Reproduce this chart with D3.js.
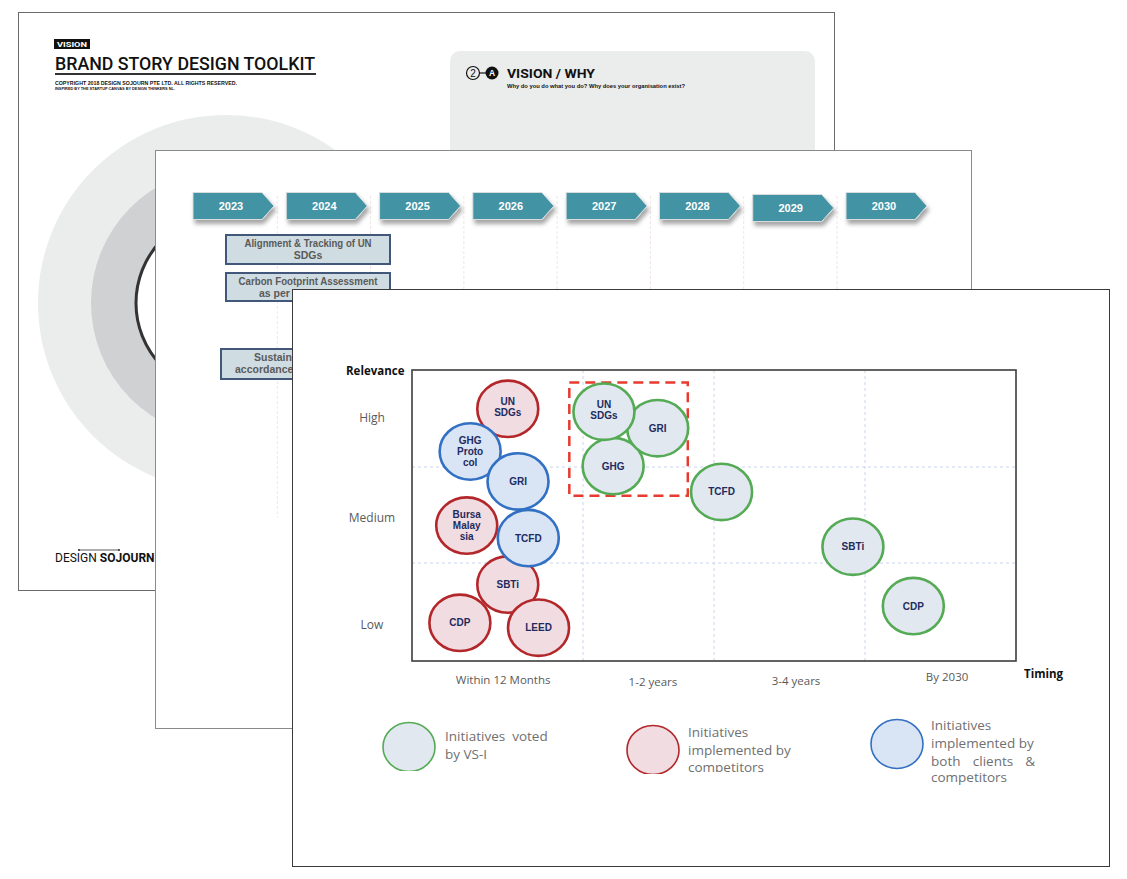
<!DOCTYPE html>
<html><head><meta charset="utf-8">
<script src="https://cdn.jsdelivr.net/npm/d3@7"></script>
<style>body{margin:0;background:#fff}svg{display:block}</style>
</head><body><svg id="c" width="1127" height="879"></svg>
<script>
// ---------------- DATA ----------------
const roadmapYears = ["2023","2024","2025","2026","2027","2028","2029","2030"];
const roadmapItems = [
  ["Alignment &  Tracking of UN","SDGs"],
  ["Carbon Footprint Assessment","as per GHG Protocol"],
  ["Sustainability","accordance with GRI"]
];
const timingCategories = ["Within 12 Months","1-2 years","3-4 years","By 2030"];
const timingTickValues = [0.53, 1.53, 2.54, 3.54];
const relevanceCategories = ["Low","Medium","High"];
const relevanceTickValues = [0.39, 1.49, 2.52];

// Initiatives voted by VS-I (green)
const votedLabels    = ["GHG","GRI","UN\nSDGs","TCFD","SBTi","CDP"];
const votedTiming    = [1.23, 1.57, 1.16, 2.05, 2.92, 3.32];
const votedRelevance = [2.01, 2.40, 2.57, 1.74, 1.17, 0.56];

// Initiatives implemented by competitors (red)
const competitorLabels    = ["UN\nSDGs","Bursa\nMalay\nsia","SBTi","CDP","LEED"];
const competitorTiming    = [0.56, 0.32, 0.56, 0.28, 0.74];
const competitorRelevance = [2.60, 1.39, 0.78, 0.39, 0.34];

// Initiatives implemented by both clients & competitors (blue)
const bothLabels    = ["GHG\nProto\ncol","GRI","TCFD"];
const bothTiming    = [0.34, 0.62, 0.68];
const bothRelevance = [2.16, 1.85, 1.26];

const highlightTiming = [0.92, 1.80];
const highlightRelevance = [1.70, 2.87];

const legendLabels = [
  ["Initiatives  voted","by VS-I"],
  ["Initiatives","implemented by","competitors"],
  ["Initiatives","implemented by","both   clients   &","competitors"]
];

// ---------------- DRAW ----------------
const svg = d3.select("#c");
const defs = svg.append("defs");
const f = defs.append("filter").attr("id","sh").attr("x","-20%").attr("y","-30%").attr("width","150%").attr("height","190%");
f.append("feDropShadow").attr("dx",2).attr("dy",4).attr("stdDeviation",2).attr("flood-color","#000").attr("flood-opacity",0.35);
defs.append("clipPath").attr("id","clipS1").append("rect").attr("x",18).attr("y",12).attr("width",137).attr("height",580);
defs.append("clipPath").attr("id","clipS2").append("rect").attr("x",150).attr("y",140).attr("width",142).attr("height",600);

// ===== Slide 1 (back) =====
const s1 = svg.append("g");
s1.append("rect").attr("x",18.5).attr("y",12.5).attr("width",816).attr("height",578).attr("fill","#fff").attr("stroke","#6a6a6a");
s1.append("circle").attr("cx",226).attr("cy",303).attr("r",188).attr("fill","#ebecec");
s1.append("circle").attr("cx",226).attr("cy",303).attr("r",135).attr("fill","#d0d1d3");
s1.append("circle").attr("cx",226).attr("cy",303).attr("r",90).attr("fill","#fff").attr("stroke","#333").attr("stroke-width",3);
s1.append("rect").attr("x",54).attr("y",39).attr("width",36).attr("height",10).attr("fill","#111");
s1.append("text").attr("x",57).attr("y",47).attr("fill","#fff").attr("font-family","Roboto, Liberation Sans").attr("font-weight",700).attr("font-size",8).attr("textLength",30).attr("lengthAdjust","spacingAndGlyphs").text("VISION");
s1.append("text").attr("x",55).attr("y",70).attr("fill","#111").attr("font-family","Roboto").attr("font-weight",500).attr("font-size",18).attr("textLength",260).attr("lengthAdjust","spacingAndGlyphs").text("BRAND STORY DESIGN TOOLKIT");
s1.append("rect").attr("x",55).attr("y",73).attr("width",261).attr("height",2).attr("fill","#333");
s1.append("text").attr("x",55).attr("y",85).attr("fill","#111").attr("font-family","Liberation Sans").attr("font-weight",700).attr("font-size",5.5).attr("textLength",182).attr("lengthAdjust","spacingAndGlyphs").text("COPYRIGHT 2018 DESIGN SOJOURN PTE LTD. ALL RIGHTS RESERVED.");
s1.append("text").attr("x",55).attr("y",89.5).attr("fill","#111").attr("font-family","Liberation Sans").attr("font-weight",700).attr("font-size",3.8).attr("textLength",120).attr("lengthAdjust","spacingAndGlyphs").text("INSPIRED BY THE STARTUP CANVAS BY DESIGN THINKERS NL.");
s1.append("rect").attr("x",450).attr("y",51).attr("width",365).attr("height",200).attr("rx",10).attr("fill","#ebecec");
s1.append("circle").attr("cx",473).attr("cy",73).attr("r",6.5).attr("fill","none").attr("stroke","#111").attr("stroke-width",1.2);
s1.append("text").attr("x",473).attr("y",76.8).attr("text-anchor","middle").attr("font-family","Liberation Sans").attr("font-size",10).attr("fill","#111").text("2");
s1.append("line").attr("x1",479.5).attr("x2",486).attr("y1",73).attr("y2",73).attr("stroke","#111").attr("stroke-width",1.2);
s1.append("circle").attr("cx",492).attr("cy",73).attr("r",6.5).attr("fill","#111");
s1.append("text").attr("x",492).attr("y",76.3).attr("text-anchor","middle").attr("font-family","Liberation Sans").attr("font-weight",700).attr("font-size",8.5).attr("fill","#fff").text("A");
s1.append("text").attr("x",507).attr("y",78).attr("fill","#111").attr("font-family","Roboto").attr("font-weight",700).attr("font-size",13).attr("textLength",88).attr("lengthAdjust","spacingAndGlyphs").text("VISION / WHY");
s1.append("text").attr("x",507).attr("y",88).attr("fill","#111").attr("font-family","Liberation Sans").attr("font-weight",700).attr("font-size",5.8).attr("textLength",178).attr("lengthAdjust","spacingAndGlyphs").text("Why do you do what you do? Why does your organisation exist?");
const logo = s1.append("text").attr("x",55).attr("y",562).attr("fill","#111").attr("font-family","Roboto").attr("font-size",12).attr("clip-path","url(#clipS1)");
logo.append("tspan").text("DESIGN");
logo.append("tspan").attr("dx",3).attr("font-weight",700).text("SOJOURN");
s1.append("line").attr("x1",79).attr("x2",119).attr("y1",550).attr("y2",550).attr("stroke","#333").attr("stroke-width",0.8);
[79,119].forEach(x=>s1.append("circle").attr("cx",x).attr("cy",550).attr("r",1.1).attr("fill","#333"));

// ===== Slide 2 (middle) =====
const s2 = svg.append("g");
s2.append("rect").attr("x",155.5).attr("y",150.5).attr("width",816).attr("height",578).attr("fill","#fff").attr("stroke","#8a8a8a");
const yearX = d3.scalePoint().domain(roadmapYears).range([193, 846]);
roadmapYears.slice(1).forEach(yv=>{
  const x = yearX(yv) - 9;
  s2.append("line").attr("x1",x).attr("x2",x).attr("y1",196).attr("y2",517).attr("stroke","#f0e6e6").attr("stroke-dasharray","3 2");
});
const ah = 27;
const arrows = s2.selectAll("g.arr").data(roadmapYears).join("g").attr("class","arr")
  .attr("transform",d=>`translate(${yearX(d)},${d==="2029"?194.5:192.5})`);
arrows.append("path").attr("d",`M0,0H69L81,${ah/2}L69,${ah}H0Z`).attr("fill","#4394a5").attr("stroke","#d8dcdd").attr("stroke-width",1).attr("filter","url(#sh)");
arrows.append("text").attr("x",38).attr("y",ah/2+4).attr("text-anchor","middle").attr("fill","#fff").attr("font-family","Liberation Sans").attr("font-weight",700).attr("font-size",11).text(d=>d);
const boxes = [
  {x:226,y:235,w:164,h:29,l1:{x:308,a:"middle",w:127},l2:{x:308,a:"middle"},b1:247,b2:259},
  {x:226,y:273,w:164,h:28,l1:{x:308,a:"middle",w:139},l2:{x:259,a:"start"},b1:285,b2:297},
  {x:221,y:349,w:164,h:30,l1:{x:254,a:"start"},l2:{x:235,a:"start"},b1:361,b2:373}
];
boxes.forEach((b,i)=>{
  s2.append("rect").attr("x",b.x).attr("y",b.y).attr("width",b.w).attr("height",b.h).attr("fill","#cfdce1").attr("stroke","#42587a").attr("stroke-width",2);
  const t1 = s2.append("text").attr("x",b.l1.x).attr("y",b.b1).attr("text-anchor",b.l1.a).attr("fill","#5a5a5a").attr("font-family","Liberation Sans").attr("font-weight",700).attr("font-size",10.5).text(roadmapItems[i][0]);
  if (b.l1.w) t1.attr("textLength",b.l1.w).attr("lengthAdjust","spacingAndGlyphs");
  if (i===2) t1.attr("clip-path","url(#clipS2)");
  const t2 = s2.append("text").attr("x",b.l2.x).attr("y",b.b2).attr("text-anchor",b.l2.a).attr("fill","#5a5a5a").attr("font-family","Liberation Sans").attr("font-weight",700).attr("font-size",10.5).text(roadmapItems[i][1]);
  if (i>0) t2.attr("clip-path","url(#clipS2)");
});

// ===== Slide 3 (front) =====
const s3 = svg.append("g");
s3.append("rect").attr("x",292.5).attr("y",289.5).attr("width",817).attr("height",577).attr("fill","#fff").attr("stroke","#3a3a3a");

const x = d3.scaleLinear().domain([0,1,2,3,4]).range([412,583,714,865,1016]);
const y = d3.scaleLinear().domain([0,1,2,3]).range([661,563,467,370]);

// grid
const grid = s3.append("g").attr("stroke","#c8d6ee").attr("stroke-dasharray","3 3").attr("stroke-width",1);
[1,2,3].forEach(v=>grid.append("line").attr("x1",x(v)).attr("x2",x(v)).attr("y1",y(3)).attr("y2",y(0)));
[1,2].forEach(v=>grid.append("line").attr("x1",x(0)).attr("x2",x(4)).attr("y1",y(v)).attr("y2",y(v)));

// axes (labels only)
const yAxis = d3.axisLeft(y).tickValues(relevanceTickValues).tickFormat((d,i)=>relevanceCategories[i]).tickSize(0);
const ya = s3.append("g").attr("transform",`translate(${x(0)},0)`).call(yAxis);
ya.select(".domain").remove();
ya.selectAll("text").attr("x",-40).attr("dy","0.45em").attr("text-anchor","middle").attr("font-family","Open Sans").attr("font-size",12).attr("fill","#5a5a5a");
const xAxis = d3.axisBottom(x).tickValues(timingTickValues).tickFormat((d,i)=>timingCategories[i]).tickSize(0);
const xa = s3.append("g").attr("transform",`translate(0,${y(0)})`).call(xAxis);
xa.select(".domain").remove();
const xdy = [15,17,16,12];
xa.selectAll("text").attr("y",(d,i)=>xdy[i]).attr("font-family","Open Sans").attr("font-size",11.5).attr("fill","#5a5a5a");

s3.append("text").attr("x",346).attr("y",375).attr("font-family","Open Sans").attr("font-weight",700).attr("font-size",11.5).attr("fill","#111").text("Relevance");
s3.append("text").attr("x",1024).attr("y",678).attr("font-family","Open Sans").attr("font-weight",700).attr("font-size",11.5).attr("fill","#111").text("Timing");

// bubbles
const styles = {
  green:{stroke:"#55ab55", fill:"#e1e8ef"},
  red:{stroke:"#b3272b", fill:"#f1dde1"},
  blue:{stroke:"#3270c3", fill:"#d9e4f5"}
};
function bubbles(labels, tx, ry, st){
  const data = labels.map((l,i)=>({l, t:tx[i], r:ry[i]}));
  const g = s3.append("g").selectAll("g").data(data).join("g")
    .attr("transform",d=>`translate(${x(d.t)},${y(d.r)})`);
  g.append("ellipse").attr("rx",30.5).attr("ry",28.2).attr("fill",st.fill).attr("stroke",st.stroke).attr("stroke-width",2.6);
  g.each(function(d){
    const lines = d.l.split("\n");
    const t = d3.select(this).append("text").attr("text-anchor","middle").attr("font-family","Liberation Sans").attr("font-weight",700).attr("font-size",10).attr("fill","#1e2b5f");
    lines.forEach((ln,j)=>t.append("tspan").attr("x",0).attr("y",(j-(lines.length-1)/2)*11.3+3.5 - (lines.length===2?1.5:0)).text(ln));
  });
}
s3.append("rect").attr("x",x(highlightTiming[0])).attr("y",y(highlightRelevance[1]))
  .attr("width",x(highlightTiming[1])-x(highlightTiming[0])).attr("height",y(highlightRelevance[0])-y(highlightRelevance[1]))
  .attr("fill","none").attr("stroke","#e63b2e").attr("stroke-width",2.5).attr("stroke-dasharray","10 6");
bubbles(votedLabels, votedTiming, votedRelevance, styles.green);
bubbles(competitorLabels, competitorTiming, competitorRelevance, styles.red);
bubbles(bothLabels, bothTiming, bothRelevance, styles.blue);

// plot frame
s3.append("rect").attr("x",x(0)).attr("y",y(3)).attr("width",x(4)-x(0)).attr("height",y(0)-y(3)).attr("fill","none").attr("stroke","#3d3d3d").attr("stroke-width",1.6);

// legend
const legendItems = [
  {st:styles.green, cx:409, cy:747, clip:771, tx:445, base:[741,759]},
  {st:styles.red, cx:653, cy:750, clip:774, tx:688, base:[737,755,772]},
  {st:styles.blue, cx:897, cy:744, clip:800, tx:931, base:[730,748,766,782]}
];
legendItems.forEach((it,i)=>{
  const cid = "lc"+i;
  defs.append("clipPath").attr("id",cid).append("rect").attr("x",it.cx-40).attr("y",it.cy-40).attr("width",80).attr("height",it.clip-(it.cy-40));
  s3.append("ellipse").attr("cx",it.cx).attr("cy",it.cy).attr("rx",26).attr("ry",24.5).attr("fill",it.st.fill).attr("stroke",it.st.stroke).attr("stroke-width",1.6).attr("clip-path",`url(#${cid})`);
  const tid = "lt"+i;
  defs.append("clipPath").attr("id",tid).append("rect").attr("x",it.tx-5).attr("y",700).attr("width",200).attr("height",i===1?72:100);
  const tg = s3.append("g").attr("clip-path",`url(#${tid})`).attr("font-family","Open Sans").attr("font-size",13.5).attr("fill","#707070");
  legendLabels[i].forEach((ln,j)=>{
    if (ln.startsWith("both")) {
      const parts = ln.split(/\s+/);
      tg.append("text").attr("x",it.tx).attr("y",it.base[j]).text(parts[0]);
      tg.append("text").attr("x",it.tx+62).attr("y",it.base[j]).attr("text-anchor","middle").text(parts[1]);
      tg.append("text").attr("x",it.tx+104).attr("y",it.base[j]).attr("text-anchor","end").text(parts[2]);
    } else {
      tg.append("text").attr("x",it.tx).attr("y",it.base[j]).style("white-space","pre").text(ln);
    }
  });
});
</script></body></html>
